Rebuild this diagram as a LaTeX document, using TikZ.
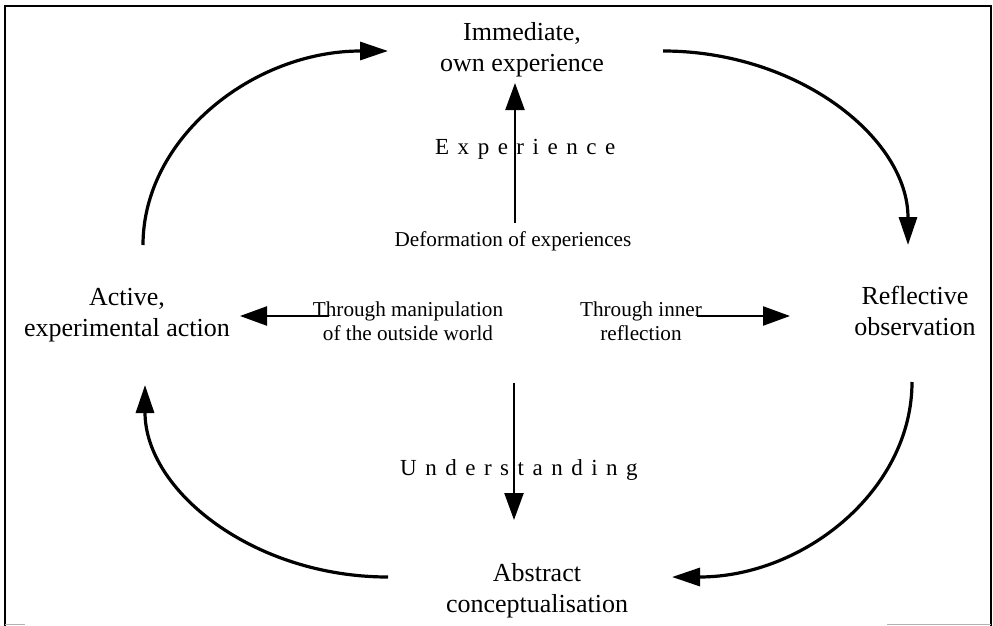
\documentclass[tikz,border=0pt]{standalone}
\usepackage{fontspec}
\setmainfont{Liberation Serif}
\usetikzlibrary{arrows.meta}
\begin{document}
\begin{tikzpicture}[x=1pt,y=-1pt,
  lab/.style={font=\fontsize{26}{30.5}\selectfont, align=center, inner sep=0pt, anchor=base},
  small/.style={font=\fontsize{21.2}{23.4}\selectfont, align=center, inner sep=0pt, anchor=base},
  spaced/.style={font=\fontsize{23}{26}\selectfont\addfontfeature{LetterSpace=37}, inner sep=0pt, anchor=base west},
  bendarrow/.style={line width=3.2pt, -{Triangle[length=28pt,width=18pt]}},
  straightarrow/.style={line width=2.4pt, -{Triangle[length=27pt,width=19pt]}},
]
\useasboundingbox (0,0) rectangle (993,626);
\draw[line width=1.5pt] (5,626) -- (5,6) -- (991,6) -- (991,626);
\draw[line width=1pt, gray!60] (5,624) -- (25,624) (887,624) -- (991,624);

\node[lab] (imm) at (522,71) {Immediate,\\own experience};
\node[lab] (refl) at (915,335) {Reflective\\observation};
\node[lab] (act) at (127,336) {Active,\\experimental action};
\node[lab] (abs) at (537,612) {Abstract\\conceptualisation};

\node[small] (def) at (513,246) {Deformation of experiences};
\node[small] (man) at (408,340) {Through manipulation\\of the outside world};
\node[small] (inn) at (641,340) {Through inner\\reflection};
\node[spaced] (exp) at (435,154) {Experience};
\node[spaced] (und) at (400,475) {Understanding};

\coordinate (upS) at (515,223); \coordinate (upE) at (515,83);
\coordinate (dnS) at (514,383); \coordinate (dnE) at (514,520);
\coordinate (lS) at (329,316); \coordinate (lE) at (240,316);
\coordinate (rS) at (697,316); \coordinate (rE) at (790,316);

\draw[straightarrow] (upS) -- (upE);
\draw[straightarrow] (dnS) -- (dnE);
\draw[straightarrow] (lS) -- (lE);
\draw[straightarrow] (rS) -- (rE);

\coordinate (tlS) at (143,245); \coordinate (tlE) at (388,51);
\coordinate (trS) at (663,51);  \coordinate (trE) at (908,245);
\coordinate (brS) at (912,382); \coordinate (brE) at (672,577);
\coordinate (blS) at (388,577); \coordinate (blE) at (145,385);

\draw[bendarrow] (tlS) .. controls +(0,-107) and +(-135,0) .. (tlE);
\draw[bendarrow] (trS) .. controls +(135,0) and +(0,-107) .. (trE);
\draw[bendarrow] (brS) .. controls +(0,108) and +(132,0) .. (brE);
\draw[bendarrow] (blS) .. controls +(-134,0) and +(0,106) .. (blE);
\end{tikzpicture}
\end{document}
